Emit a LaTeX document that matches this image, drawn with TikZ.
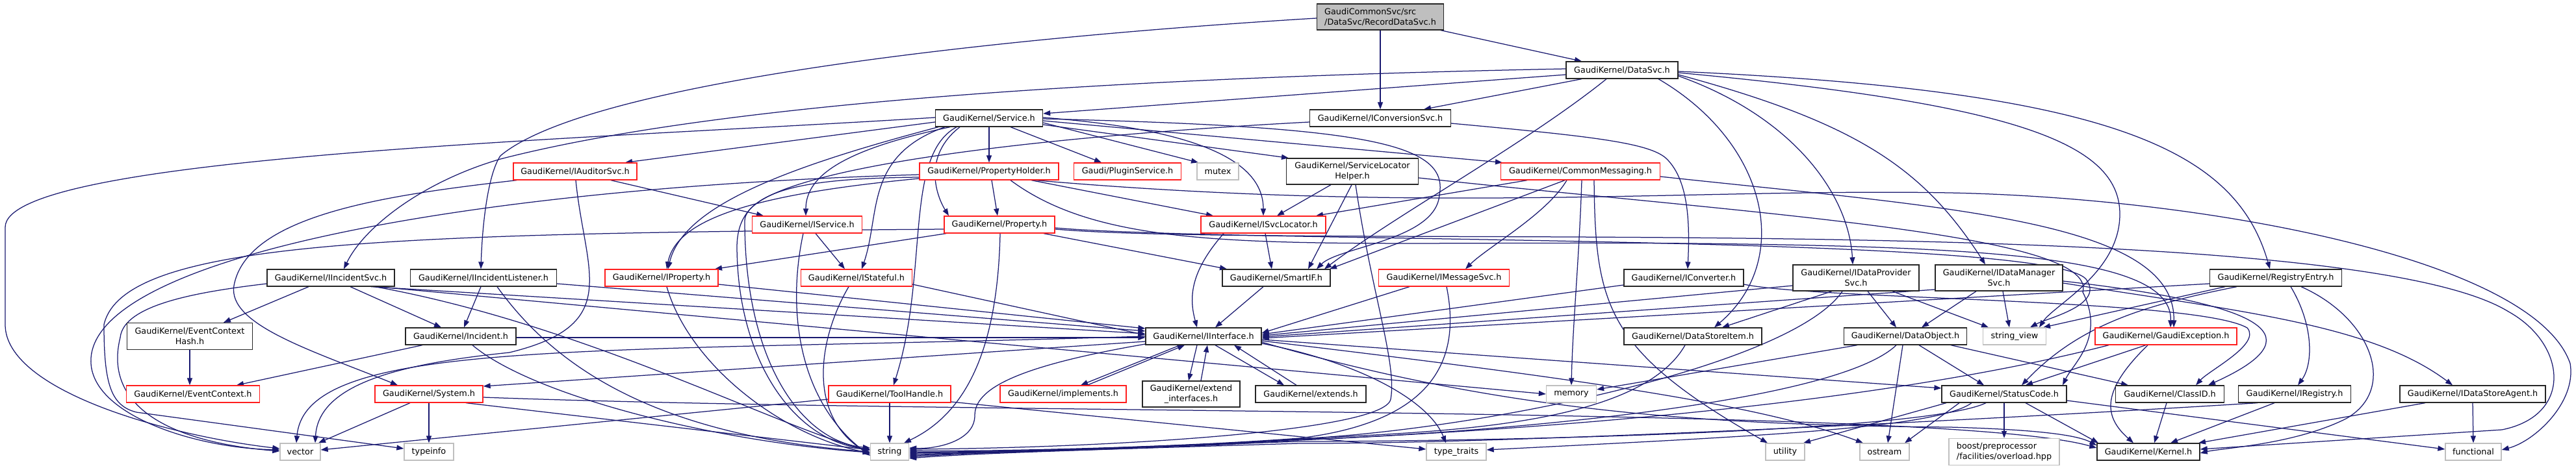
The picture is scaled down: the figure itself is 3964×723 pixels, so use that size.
\documentclass[tikz,border=0pt]{standalone}
\usepackage{fontspec}
\setmainfont{DejaVu Sans}
\usetikzlibrary{arrows.meta}
\definecolor{edgec}{RGB}{25,25,112}
\definecolor{grayb}{RGB}{191,191,191}
\definecolor{redb}{RGB}{255,30,30}
\pgfdeclarelayer{back}
\pgfdeclarelayer{edges}
\pgfsetlayers{back,edges,main}
\tikzset{
  nbase/.style={rectangle, inner sep=0pt, minimum height=26pt, fill=white, line width=1.3pt,
    font=\fontsize{12.8}{16}\selectfont, align=center},
  nblk/.style={nbase, draw=black!85},
  nred/.style={nbase, draw=redb},
  ngry/.style={nbase, draw=grayb},
  nroot/.style={nbase, draw=black!85, fill=grayb, align=left},
  edg/.style={draw=edgec, line width=1.25pt, -{Triangle[length=11pt,width=8pt]}}
}
\begin{document}
\begin{tikzpicture}[x=1pt,y=-1pt]
\begin{pgfonlayer}{back}
\fill[white] (0,0) rectangle (3964,723);
\end{pgfonlayer}
\useasboundingbox (0,0) rectangle (3964,723);

% ---------- nodes ----------
\node[nroot, minimum width=195pt, minimum height=40pt] (R) at (2124,26) {GaudiCommonSvc/src\\/DataSvc/RecordDataSvc.h};
\node[nblk, minimum width=172pt] (DS) at (2496,108) {GaudiKernel/DataSvc.h};
\node[nblk, minimum width=165pt] (SV) at (1522,182) {GaudiKernel/Service.h};
\node[nblk, minimum width=217pt] (ICS) at (2124,182) {GaudiKernel/IConversionSvc.h};
\node[nred, minimum width=190pt] (IAS) at (885,264) {GaudiKernel/IAuditorSvc.h};
\node[nred, minimum width=214pt] (PH) at (1522,264) {GaudiKernel/PropertyHolder.h};
\node[nred, minimum width=165pt] (PS) at (1735,264) {Gaudi/PluginService.h};
\node[ngry, minimum width=64pt] (MX) at (1874,264) {mutex};
\node[nblk, minimum width=203pt, minimum height=40pt] (SLH) at (2081,264) {GaudiKernel/ServiceLocator\\Helper.h};
\node[nred, minimum width=245pt] (CM) at (2432,264) {GaudiKernel/CommonMessaging.h};
\node[nred, minimum width=169pt] (IS) at (1242,346) {GaudiKernel/IService.h};
\node[nred, minimum width=170pt] (PR) at (1538,346) {GaudiKernel/Property.h};
\node[nred, minimum width=192pt] (ISL) at (1944,346) {GaudiKernel/ISvcLocator.h};
\node[nblk, minimum width=196pt] (IIS) at (509,428) {GaudiKernel/IIncidentSvc.h};
\node[nblk, minimum width=225pt] (IIL) at (744,428) {GaudiKernel/IIncidentListener.h};
\node[nred, minimum width=174pt] (IP) at (1018,428) {GaudiKernel/IProperty.h};
\node[nred, minimum width=171pt] (IST) at (1318,428) {GaudiKernel/IStateful.h};
\node[nblk, minimum width=166pt] (SIF) at (1964,428) {GaudiKernel/SmartIF.h};
\node[nred, minimum width=201pt] (IMS) at (2222,428) {GaudiKernel/IMessageSvc.h};
\node[nblk, minimum width=184pt] (ICV) at (2591,428) {GaudiKernel/IConverter.h};
\node[nblk, minimum width=194pt, minimum height=40pt] (IDP) at (2856,428) {GaudiKernel/IDataProvider\\Svc.h};
\node[nblk, minimum width=196pt, minimum height=40pt] (IDM) at (3076,428) {GaudiKernel/IDataManager\\Svc.h};
\node[nblk, minimum width=203pt] (RE) at (3502,428) {GaudiKernel/RegistryEntry.h};
\node[nblk, minimum width=193pt, minimum height=41pt] (ECH) at (292,518) {GaudiKernel/EventContext\\Hash.h};
\node[nblk, minimum width=170pt] (INC) at (709,518) {GaudiKernel/Incident.h};
\node[nblk, minimum width=178pt] (II) at (1852,518) {GaudiKernel/IInterface.h};
\node[nblk, minimum width=212pt] (DSI) at (2605,518) {GaudiKernel/DataStoreItem.h};
\node[nblk, minimum width=189pt] (DO) at (2932,518) {GaudiKernel/DataObject.h};
\node[ngry, minimum width=97pt] (SVW) at (3100,518) {string\_view};
\node[nred, minimum width=218pt] (GE) at (3333,518) {GaudiKernel/GaudiException.h};
\node[nred, minimum width=205pt] (EC) at (297,607) {GaudiKernel/EventContext.h};
\node[nred, minimum width=166pt] (SYS) at (660,607) {GaudiKernel/System.h};
\node[nred, minimum width=188pt] (TH) at (1369,607) {GaudiKernel/ToolHandle.h};
\node[nred, minimum width=194pt] (IMP) at (1636,607) {GaudiKernel/implements.h};
\node[nblk, minimum width=150pt, minimum height=40pt] (EXI) at (1833,607) {GaudiKernel/extend\\\_interfaces.h};
\node[nblk, minimum width=170pt] (EXT) at (2017,607) {GaudiKernel/extends.h};
\node[ngry, minimum width=77pt] (MEM) at (2418,607) {memory};
\node[nblk, minimum width=192pt] (SC) at (3084,607) {GaudiKernel/StatusCode.h};
\node[nblk, minimum width=167pt] (CID) at (3339,607) {GaudiKernel/ClassID.h};
\node[nblk, minimum width=173pt] (IRG) at (3531,607) {GaudiKernel/IRegistry.h};
\node[nblk, minimum width=224pt] (IDSA) at (3805,607) {GaudiKernel/IDataStoreAgent.h};
\node[ngry, minimum width=62pt] (VEC) at (462,696) {vector};
\node[ngry, minimum width=76pt] (TI) at (660,696) {typeinfo};
\node[ngry, minimum width=59pt] (STR) at (1369,696) {string};
\node[ngry, minimum width=92pt] (TT) at (2241,696) {type\_traits};
\node[ngry, minimum width=60pt] (UT) at (2747,696) {utility};
\node[ngry, minimum width=76pt] (OS) at (2900,696) {ostream};
\node[ngry, minimum width=170pt, minimum height=41pt, align=left] (BST) at (3084,696) {boost/preprocessor\\/facilities/overload.hpp};
\node[nblk, minimum width=158pt] (KER) at (3306,696) {GaudiKernel/Kernel.h};
\node[ngry, minimum width=86pt] (FUN) at (3806,696) {functional};

% ---------- edges ----------
\begin{pgfonlayer}{edges}
% root
\draw[edg] ([xshift=93pt]R.south) -- ([xshift=-62pt]DS.north);
\draw[edg] (R.south) -- (ICS.north);
\draw[edg] ([yshift=-2pt]R.west) .. controls (1500,60) and (900,130) .. (770,240) .. controls (750,270) and (742,350) .. ([xshift=-4pt]IIL.north);
% DataSvc
\draw[edg] ([yshift=2pt]DS.west) .. controls (1700,120) and (1100,160) .. (770,245) .. controls (650,280) and (560,350) .. ([xshift=20pt]IIS.north);
\draw[edg] ([yshift=-7pt]DS.west) -- ([yshift=7pt]SV.east);
\draw[edg] ([xshift=-62pt]DS.south) -- ([xshift=67pt]ICS.north);
\draw[edg] ([xshift=-24pt]DS.south) .. controls (2350,220) and (2150,330) .. ([xshift=74pt]SIF.north);
\draw[edg] ([xshift=56pt]DS.south) .. controls (2720,220) and (2760,400) .. ([xshift=33pt]DSI.north);
\draw[edg] ([yshift=-9pt]DS.east) .. controls (2760,180) and (2845,300) .. ([xshift=-5pt]IDP.north);
\draw[edg] ([yshift=-7pt]DS.east) .. controls (2860,190) and (2960,260) .. ([xshift=-21pt]IDM.north);
\draw[edg] ([yshift=-4pt]DS.east) .. controls (3100,160) and (3262,220) .. (3262,330) .. controls (3262,420) and (3160,470) .. ([xshift=38pt]SVW.north);
\draw[edg] ([yshift=-2pt]DS.east) .. controls (3250,140) and (3440,230) .. ([xshift=-9pt]RE.north);
% Service
\draw[edg] ([yshift=1pt]SV.west) .. controls (900,215) and (8,240) .. (8,350) -- (8,500) .. controls (8,600) and (250,670) .. ([yshift=5pt]VEC.west);
\draw[edg] ([yshift=-6pt]SV.west) -- ([xshift=77pt]IAS.north);
\draw[edg] ([xshift=-78pt]SV.south) .. controls (1200,260) and (1050,320) .. ([xshift=10pt]IP.north);
\draw[edg] ([xshift=-60pt]SV.south) .. controls (1300,230) and (1240,270) .. ([xshift=-2pt]IS.north);
\draw[edg] ([xshift=-68pt]SV.south) .. controls (1330,240) and (1355,330) .. ([xshift=8pt]IST.north);
\draw[edg] ([xshift=-50pt]SV.south) .. controls (1390,240) and (1430,420) .. ([xshift=6pt]TH.north);
\draw[edg] ([xshift=-45pt]SV.south) .. controls (1420,240) and (1440,300) .. ([xshift=-78pt]PR.north);
\draw[edg] (SV.south) -- (PH.north);
\draw[edg] ([xshift=33pt]SV.south) -- ([xshift=-40pt]PS.north);
\draw[edg] ([yshift=-7pt]SV.east) -- ([xshift=-30pt]MX.north);
\draw[edg] ([yshift=-10pt]SV.east) -- ([xshift=-98pt]SLH.north);
\draw[edg] ([yshift=-4pt]SV.east) -- ([xshift=-120pt]CM.north);
\draw[edg] ([yshift=-1pt]SV.east) .. controls (2100,195) and (2230,220) .. (2215,300) .. controls (2210,370) and (2060,380) .. ([xshift=62pt]SIF.north);
\draw[edg] ([yshift=1pt]SV.east) .. controls (1850,200) and (1944,250) .. (ISL.north);
% IConversionSvc
\draw[edg] ([yshift=-8pt]ICS.east) .. controls (2450,210) and (2540,220) .. (2565,245) .. controls (2600,280) and (2600,350) .. ([xshift=6pt]ICV.north);
\draw[edg] ([yshift=-6pt]ICS.west) .. controls (1600,210) and (1148,260) .. (1146,340) .. controls (1146,560) and (1235,680) .. ([yshift=6pt]STR.west);
% IAuditorSvc
\draw[edg] ([xshift=55pt]IAS.south) -- ([xshift=-67pt]IS.north);
\draw[edg] ([xshift=1pt]IAS.south) .. controls (900,420) and (960,500) .. (784,543) .. controls (620,560) and (490,590) .. ([xshift=23pt]VEC.north);
\draw[edg] ([xshift=-90pt]IAS.south) .. controls (600,300) and (380,330) .. (360,440) .. controls (350,500) and (480,540) .. ([xshift=-48pt]SYS.north);
% PropertyHolder
\draw[edg] ([yshift=-11pt]PH.west) .. controls (1150,300) and (1040,340) .. ([xshift=8pt]IP.north);
\draw[edg] ([xshift=4pt]PH.south) -- ([xshift=-3pt]PR.north);
\draw[edg] ([xshift=65pt]PH.south) -- ([xshift=-77pt]ISL.north);
\draw[edg] ([yshift=-5pt]PH.west) .. controls (700,290) and (130,400) .. (140,560) .. controls (145,640) and (300,690) .. ([yshift=3pt]VEC.west);
\draw[edg] ([yshift=-9pt]PH.west) .. controls (1200,275) and (1135,300) .. (1134,380) .. controls (1135,560) and (1225,680) .. ([yshift=4pt]STR.west);
\draw[edg] ([xshift=33pt]PH.south) .. controls (1720,400) and (2000,370) .. (2600,375) .. controls (3100,380) and (3343,400) .. ([xshift=7pt]GE.north);
\draw[edg] ([xshift=71pt]PH.south) .. controls (2200,330) and (2600,290) .. (3000,297) .. controls (3400,305) and (3900,400) .. (3955,560) .. controls (3965,620) and (3900,680) .. ([yshift=3pt]FUN.east);
% Property
\draw[edg] ([xshift=-82pt]PR.south) -- ([xshift=82pt]IP.north);
\draw[edg] ([xshift=1pt]PR.south) .. controls (1535,550) and (1480,640) .. ([xshift=22pt]STR.north);
\draw[edg] ([xshift=68pt]PR.south) -- ([xshift=-76pt]SIF.north);
\draw[edg] ([yshift=-7pt]PR.west) .. controls (600,360) and (190,370) .. (160,500) .. controls (160,590) and (170,625) .. (210,635) -- ([yshift=5pt]TI.west);
\draw[edg] ([yshift=-5pt]PR.east) .. controls (1900,375) and (3150,360) .. (3210,430) .. controls (3240,470) and (3150,490) .. ([xshift=24pt]SVW.north);
\draw[edg] ([yshift=-7pt]PR.east) .. controls (2000,385) and (3600,320) .. (3860,480) .. controls (3950,530) and (3960,640) .. (3850,662) -- ([yshift=4pt]KER.east);
% ISvcLocator
\draw[edg] ([xshift=-61pt]ISL.south) .. controls (1830,420) and (1830,460) .. ([xshift=-10pt]II.north);
\draw[edg] ([xshift=3pt]ISL.south) -- ([xshift=-7pt]SIF.north);
% ServiceLocatorHelper
\draw[edg] ([xshift=-33pt]SLH.south) -- ([xshift=21pt]ISL.north);
\draw[edg] ([xshift=-1pt]SLH.south) -- ([xshift=49pt]SIF.north);
\draw[edg] ([xshift=5pt]SLH.south) .. controls (2110,450) and (2150,560) .. (2140,615) .. controls (2130,665) and (1700,690) .. ([yshift=4pt]STR.east);
\draw[edg] ([yshift=-10pt]SLH.east) .. controls (2700,330) and (3230,360) .. (3205,450) .. controls (3240,520) and (3190,560) .. ([xshift=90pt]SC.north);
% CommonMessaging
\draw[edg] ([xshift=-82pt]CM.south) -- ([xshift=81pt]ISL.north);
\draw[edg] ([xshift=-24pt]CM.south) -- ([xshift=82pt]SIF.north);
\draw[edg] ([xshift=-21pt]CM.south) .. controls (2380,330) and (2290,380) .. ([xshift=33pt]IMS.north);
\draw[edg] ([xshift=2pt]CM.south) .. controls (2430,400) and (2420,500) .. (MEM.north);
\draw[edg] ([xshift=21pt]CM.south) .. controls (2455,470) and (2470,540) .. ([xshift=-27pt]UT.north);
\draw[edg] ([yshift=-8pt]CM.east) .. controls (3000,320) and (3348,340) .. ([xshift=12pt]GE.north);
% IIncidentSvc
\draw[edg] ([yshift=-9pt]IIS.west) .. controls (300,450) and (190,470) .. (185,520) .. controls (160,620) and (250,680) .. ([yshift=1pt]VEC.west);
\draw[edg] ([xshift=-34pt]IIS.south) -- ([xshift=52pt]ECH.north);
\draw[edg] ([xshift=30pt]IIS.south) -- ([xshift=-30pt]INC.north);
\draw[edg] ([xshift=62pt]IIS.south) -- ([yshift=4pt]II.west);
\draw[edg] ([xshift=68pt]IIS.south) .. controls (900,500) and (1200,660) .. ([yshift=2pt]STR.west);
\draw[edg] ([xshift=71pt]IIS.south) -- (MEM.west);
% IIncidentListener
\draw[edg] ([xshift=-4pt]IIL.south) -- ([xshift=5pt]INC.north);
\draw[edg] ([xshift=21pt]IIL.south) .. controls (850,560) and (1000,670) .. (STR.west);
\draw[edg] ([yshift=-9pt]IIL.east) -- ([yshift=8pt]II.west);
% IProperty
\draw[edg] ([xshift=8pt]IP.south) .. controls (1060,560) and (1200,670) .. ([yshift=-2pt]STR.west);
\draw[edg] ([yshift=-10pt]IP.east) -- ([yshift=12pt]II.west);
% IStateful
\draw[edg] ([xshift=-12pt]IST.south) .. controls (1260,520) and (1240,640) .. ([yshift=-4pt]STR.west);
\draw[edg] ([yshift=-10pt]IST.east) -- ([yshift=2pt]II.west);
% IService
\draw[edg] ([xshift=-6pt]IS.south) .. controls (1210,480) and (1230,620) .. ([yshift=-6pt]STR.west);
\draw[edg] ([xshift=13pt]IS.south) -- ([xshift=-18pt]IST.north);
% SmartIF
\draw[edg] ([xshift=-20pt]SIF.south) -- ([xshift=18pt]II.north);
% IMessageSvc
\draw[edg] ([xshift=-53pt]IMS.south) -- ([yshift=5pt]II.east);
\draw[edg] ([xshift=4pt]IMS.south) .. controls (2250,560) and (2200,650) .. (2000,675) .. controls (1800,690) and (1500,696) .. ([yshift=2pt]STR.east);
% IConverter
\draw[edg] ([yshift=-11pt]ICV.west) -- ([yshift=3pt]II.east);
\draw[edg] ([yshift=-10pt]ICV.east) .. controls (2800,462) and (3380,460) .. (3458,505) .. controls (3480,530) and (3400,570) .. ([xshift=40pt]CID.north);
% IDataProviderSvc
\draw[edg] ([yshift=-12pt]IDP.west) -- ([yshift=1pt]II.east);
\draw[edg] ([xshift=-37pt]IDP.south) -- ([xshift=45pt]DSI.north);
\draw[edg] ([xshift=-21pt]IDP.south) .. controls (2760,560) and (2300,660) .. (2000,676) .. controls (1800,690) and (1500,697) .. (STR.east);
\draw[edg] ([xshift=18pt]IDP.south) -- ([xshift=-14pt]DO.north);
\draw[edg] ([xshift=56pt]IDP.south) -- ([xshift=-40pt]SVW.north);
% IDataManagerSvc
\draw[edg] ([yshift=-18pt]IDM.west) -- ([yshift=-1pt]II.east);
\draw[edg] ([xshift=-35pt]IDM.south) -- ([xshift=25pt]DO.north);
\draw[edg] ([xshift=6pt]IDM.south) -- ([xshift=-8pt]SVW.north);
\draw[edg] ([yshift=-5pt]IDM.east) .. controls (3500,470) and (3560,520) .. ([xshift=59pt]CID.north);
\draw[edg] ([yshift=-8pt]IDM.east) .. controls (3450,480) and (3650,500) .. ([xshift=-31pt]IDSA.north);
% RegistryEntry
\draw[edg] ([yshift=-9pt]RE.west) -- ([yshift=-3pt]II.east);
\draw[edg] ([xshift=-60pt]RE.south) .. controls (3300,470) and (3200,500) .. ([xshift=27pt]SC.north);
\draw[edg] ([xshift=23pt]RE.south) .. controls (3560,500) and (3560,560) .. ([xshift=5pt]IRG.north);
\draw[edg] ([xshift=39pt]RE.south) .. controls (3650,490) and (3690,600) .. (3610,645) .. controls (3530,685) and (3420,690) .. ([yshift=-2pt]KER.east);
\draw[edg] ([xshift=-78pt]RE.south) -- ([xshift=44pt]SVW.north);
% DataStoreItem
\draw[edg] ([xshift=-12pt]DSI.south) .. controls (2520,660) and (2200,665) .. (2000,676) .. controls (1800,690) and (1500,697) .. ([yshift=-2pt]STR.east);
% DataObject
\draw[edg] ([xshift=-74pt]DO.south) -- ([yshift=7pt]MEM.east);
\draw[edg] ([xshift=-14pt]DO.south) .. controls (2816,630) and (2200,672) .. (2000,677) .. controls (1800,690) and (1500,697) .. ([yshift=-4pt]STR.east);
\draw[edg] ([xshift=-4pt]DO.south) -- ([xshift=5pt]OS.north);
\draw[edg] ([xshift=21pt]DO.south) -- ([xshift=-31pt]SC.north);
\draw[edg] ([xshift=70pt]DO.south) -- ([xshift=-64pt]CID.north);
% GaudiException
\draw[edg] ([xshift=-88pt]GE.south) .. controls (2900,620) and (2400,660) .. (2000,678) .. controls (1800,692) and (1500,697) .. ([yshift=-6pt]STR.east);
\draw[edg] ([xshift=-31pt]GE.south) -- ([xshift=33pt]SC.north);
\draw[edg] ([xshift=-28pt]GE.south) .. controls (3235,600) and (3235,640) .. ([xshift=-23pt]KER.north);
% StatusCode
\draw[edg] (SC.south) -- (BST.north);
\draw[edg] ([xshift=33pt]SC.south) -- ([xshift=-77pt]KER.north);
\draw[edg] ([yshift=-10pt]SC.east) -- ([yshift=4pt]FUN.west);
\draw[edg] ([xshift=-69pt]SC.south) -- ([xshift=31pt]OS.north);
\draw[edg] ([xshift=-89pt]SC.south) -- ([xshift=28pt]UT.north);
\draw[edg] ([xshift=-50pt]SC.south) .. controls (2980,660) and (2700,672) .. ([yshift=3pt]TT.east);
\draw[edg] ([xshift=-28pt]SC.south) .. controls (2964,665) and (2300,680) .. (2000,680) .. controls (1700,690) and (1500,697) .. ([yshift=-8pt]STR.east);
% ClassID, IRegistry, IDataStoreAgent
\draw[edg] ([xshift=-5pt]CID.south) -- ([xshift=9pt]KER.north);
\draw[edg] ([xshift=-31pt]IRG.south) -- ([xshift=34pt]KER.north);
\draw[edg] ([xshift=-57pt]IRG.south) .. controls (3000,650) and (2300,684) .. (2000,683) .. controls (1700,692) and (1500,698) .. ([yshift=-10pt]STR.east);
\draw[edg] ([xshift=-73pt]IDSA.south) -- ([xshift=77pt]KER.north);
\draw[edg] (IDSA.south) -- (FUN.north);
% Incident
\draw[edg] ([xshift=-59pt]INC.south) -- ([xshift=67pt]EC.north);
\draw[edg] ([xshift=18pt]INC.south) .. controls (820,610) and (1100,680) .. ([yshift=-1pt]STR.west);
\draw[edg] ([yshift=-2pt]INC.east) -- ([yshift=-2pt]II.west);
% EventContextHash
\draw[edg] (ECH.south) -- ([xshift=-5pt]EC.north);
% System
\draw[edg] ([xshift=-29pt]SYS.south) -- ([xshift=28pt]VEC.north);
\draw[edg] (SYS.south) -- (TI.north);
\draw[edg] ([xshift=57pt]SYS.south) -- ([yshift=3pt]STR.west);
\draw[edg] ([yshift=-5pt]SYS.east) .. controls (1500,640) and (3000,625) .. ([yshift=6pt]KER.west);
% ToolHandle
\draw[edg] (TH.south) -- (STR.north);
\draw[edg] ([yshift=-8pt]TH.west) -- ([yshift=3pt]VEC.east);
\draw[edg] ([yshift=-12pt]TH.east) -- ([yshift=4pt]TT.west);
% IInterface
\draw[edg] ([xshift=-36pt]II.south) -- ([xshift=27pt]IMP.north);
\draw[edg] ([xshift=37pt]IMP.north) -- ([xshift=-29pt]II.south);
\draw[edg] ([xshift=-10pt]II.south) -- ([xshift=-4pt]EXI.north);
\draw[edg] ([xshift=15pt]EXI.north) -- ([xshift=6pt]II.south);
\draw[edg] ([xshift=18pt]II.south) -- ([xshift=-41pt]EXT.north);
\draw[edg] ([xshift=-22pt]EXT.north) -- ([xshift=47pt]II.south);
\draw[edg] ([yshift=-8pt]II.west) -- ([yshift=12pt]SYS.east);
\draw[edg] (II.west) .. controls (900,545) and (470,520) .. ([xshift=-6pt]VEC.north);
\draw[edg] ([yshift=-12pt]II.west) .. controls (1560,565) and (1500,600) .. (1500,640) .. controls (1500,680) and (1440,692) .. ([yshift=6pt]STR.east);
\draw[edg] ([yshift=-5pt]II.east) -- ([yshift=9pt]SC.west);
\draw[edg] ([yshift=-7pt]II.east) .. controls (2400,580) and (2700,620) .. ([xshift=-33pt]OS.north);
\draw[edg] ([yshift=-9pt]II.east) .. controls (2300,630) and (2600,655) .. (3000,658) .. controls (3150,662) and (3200,672) .. ([yshift=10pt]KER.west);
\draw[edg] ([yshift=-11pt]II.east) .. controls (2100,560) and (2200,620) .. ([xshift=-16pt]TT.north);
\end{pgfonlayer}
\end{tikzpicture}
\end{document}
